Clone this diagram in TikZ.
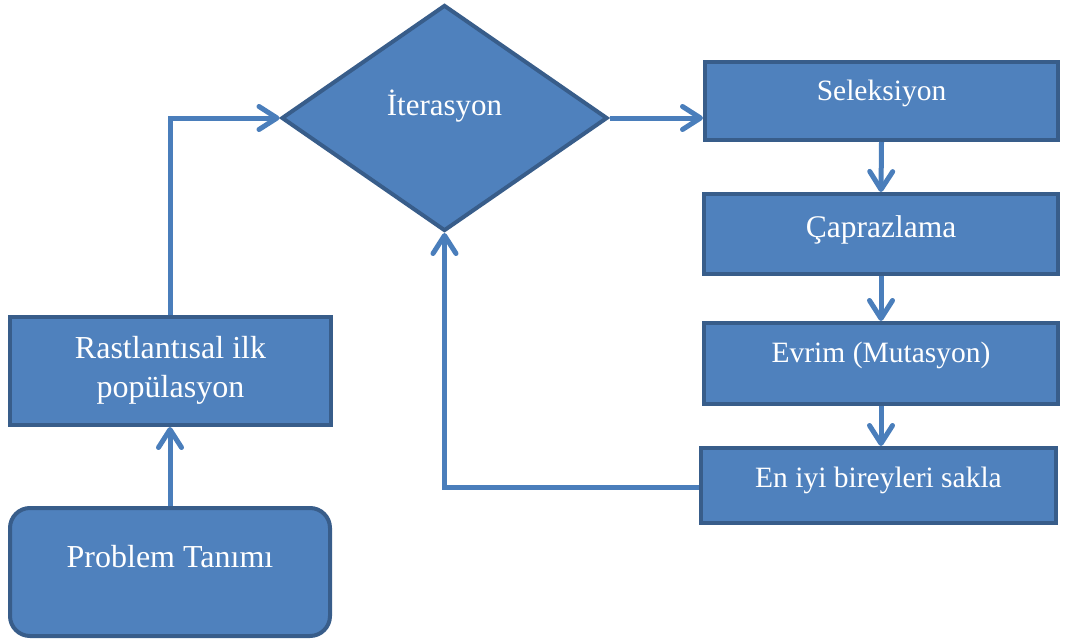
\documentclass[tikz,border=0pt]{standalone}
\usepackage{fontspec}
\setmainfont{Liberation Serif}
\usetikzlibrary{arrows.meta,shapes.geometric}
\definecolor{boxfill}{HTML}{4F81BD}
\definecolor{boxedge}{HTML}{385D8A}
\definecolor{flow}{HTML}{4A7EBB}
\tikzset{
  box/.style={draw=boxedge, fill=boxfill, line width=4pt, rectangle, inner sep=0pt},
  txt/.style={text=white, inner sep=0pt, anchor=base, font=\fontsize{29.5}{36}\selectfont},
  bigtxt/.style={text=white, inner sep=0pt, align=center, font=\fontsize{32}{39}\selectfont},
  flowline/.style={draw=flow, line width=5pt,
    -{Straight Barb[length=18pt,width=23pt,round]}}
}
\begin{document}
\begin{tikzpicture}[x=1pt,y=-1pt]
\useasboundingbox (0,0) rectangle (1065,642);

% start and initial population
\node[box, rounded corners=20pt, minimum width=320pt, minimum height=128pt] (prob) at (170,572) {};
\node[bigtxt, anchor=base, yshift=5pt] (probt) at (prob.center) {Problem Tanımı};
\node[box, minimum width=321pt, minimum height=108pt] (rast) at (170.5,371) {};
\node[bigtxt, anchor=center, yshift=1pt] (rastt) at (rast.center) {Rastlantısal ilk\\popülasyon};

% loop decision
\node[box, diamond, inner sep=0pt, minimum width=326pt, minimum height=226pt] (iter) at (444.5,118) {};
\node[txt, font=\fontsize{31}{36}\selectfont, yshift=3pt] (itert) at (iter.center) {İterasyon};

% genetic operators
\node[box, minimum width=353pt, minimum height=78pt] (sel) at (881.5,101) {};
\node[txt, yshift=1pt] (selt) at (sel.center) {Seleksiyon};
\node[box, minimum width=354pt, minimum height=80pt] (cap) at (881,234) {};
\node[txt, font=\fontsize{31.5}{36}\selectfont, yshift=-3pt] (capt) at (cap.center) {Çaprazlama};
\node[box, minimum width=354pt, minimum height=81pt] (evr) at (881,363.5) {};
\node[txt, yshift=1.5pt] (evrt) at (evr.center) {Evrim (Mutasyon)};
\node[box, minimum width=355pt, minimum height=75pt] (best) at (878.5,485.5) {};
\node[txt, yshift=-1.5pt] (bestt) at (best.center) {En iyi bireyleri sakla};

% connectors
\draw[flowline] (prob.north) -- (prob.north |- rast.south);
\draw[flowline] (rast.north) |- (iter.west);
\draw[flowline] (iter.east) -- (sel.west |- iter.east);
\draw[flowline] (sel.south) -- (cap.north);
\draw[flowline] (cap.south) -- (evr.north);
\draw[flowline] (evr.south) -- (evr.south |- best.north);
\draw[flowline] ([yshift=-1.5pt]best.west) -| (iter.south);
\end{tikzpicture}
\end{document}
